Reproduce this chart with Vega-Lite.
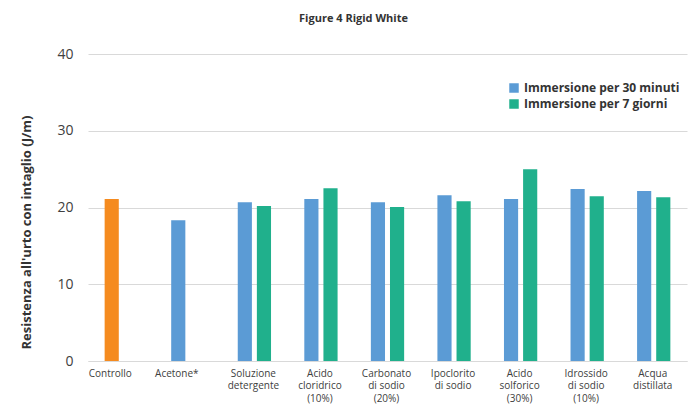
{
  "$schema": "https://vega.github.io/schema/vega-lite/v6.json",
  "autosize": {"type": "none"},
  "width": 599,
  "height": 307,
  "padding": {"left": 88, "top": 54, "right": 10, "bottom": 49},
  "background": "white",
  "title": {
    "text": "Figure 4 Rigid White",
    "fontSize": 11,
    "fontWeight": "bold",
    "color": "#333333",
    "anchor": "middle",
    "dx": -34,
    "offset": 23
  },
  "data": {
    "values": [
      {"cat": "Controllo", "slot": "a", "serie": "Controllo", "value": 21.1},
      {"cat": "Acetone*", "slot": "a", "serie": "Immersione per 30 minuti", "value": 18.35},
      {"cat": "Soluzione\ndetergente", "slot": "a", "serie": "Immersione per 30 minuti", "value": 20.7},
      {"cat": "Soluzione\ndetergente", "slot": "b", "serie": "Immersione per 7 giorni", "value": 20.2},
      {"cat": "Acido\ncloridrico\n(10%)", "slot": "a", "serie": "Immersione per 30 minuti", "value": 21.1},
      {"cat": "Acido\ncloridrico\n(10%)", "slot": "b", "serie": "Immersione per 7 giorni", "value": 22.5},
      {"cat": "Carbonato\ndi sodio\n(20%)", "slot": "a", "serie": "Immersione per 30 minuti", "value": 20.7},
      {"cat": "Carbonato\ndi sodio\n(20%)", "slot": "b", "serie": "Immersione per 7 giorni", "value": 20.05},
      {"cat": "Ipoclorito\ndi sodio", "slot": "a", "serie": "Immersione per 30 minuti", "value": 21.6},
      {"cat": "Ipoclorito\ndi sodio", "slot": "b", "serie": "Immersione per 7 giorni", "value": 20.8},
      {"cat": "Acido\nsolforico\n(30%)", "slot": "a", "serie": "Immersione per 30 minuti", "value": 21.1},
      {"cat": "Acido\nsolforico\n(30%)", "slot": "b", "serie": "Immersione per 7 giorni", "value": 25.0},
      {"cat": "Idrossido\ndi sodio\n(10%)", "slot": "a", "serie": "Immersione per 30 minuti", "value": 22.4},
      {"cat": "Idrossido\ndi sodio\n(10%)", "slot": "b", "serie": "Immersione per 7 giorni", "value": 21.45},
      {"cat": "Acqua\ndistillata", "slot": "a", "serie": "Immersione per 30 minuti", "value": 22.15},
      {"cat": "Acqua\ndistillata", "slot": "b", "serie": "Immersione per 7 giorni", "value": 21.35}
    ]
  },
  "mark": {"type": "bar"},
  "encoding": {
    "x": {
      "field": "cat",
      "type": "nominal",
      "sort": null,
      "scale": {"paddingInner": 0.5, "paddingOuter": 0.25},
      "axis": {
        "title": null,
        "labelAngle": 0,
        "labelExpr": "split(datum.label, '\\n')",
        "labelFontSize": 10,
        "labelColor": "#404040",
        "labelPadding": 7,
        "labelLineHeight": 12.5,
        "labelBaseline": "top",
        "labelOffset": {"condition": {"test": "datum.value == 'Controllo' || datum.value == 'Acetone*'", "value": -11}, "value": -1},
        "ticks": false,
        "domainColor": "#d9d9d9",
        "domainWidth": 1.2,
        "grid": false
      }
    },
    "xOffset": {
      "field": "slot",
      "type": "nominal",
      "scale": {"paddingInner": 0.26, "paddingOuter": 0}
    },
    "y": {
      "field": "value",
      "type": "quantitative",
      "scale": {"domain": [0, 40], "nice": false},
      "axis": {
        "title": "Resistenza all'urto con intaglio (J/m)",
        "titleFontSize": 13,
        "titleFontWeight": "bold",
        "titleColor": "#333333",
        "titleX": -55,
        "titleY": 178,
        "values": [0, 10, 20, 30, 40],
        "labelFontSize": 14,
        "labelColor": "#404040",
        "labelPadding": 15,
        "domain": false,
        "ticks": false,
        "grid": true,
        "gridColor": "#d9d9d9",
        "gridWidth": 1.2
      }
    },
    "color": {
      "field": "serie",
      "type": "nominal",
      "scale": {
        "domain": ["Immersione per 30 minuti", "Immersione per 7 giorni", "Controllo"],
        "range": ["#5b9bd5", "#20b08c", "#f58b1f"]
      },
      "legend": {
        "title": null,
        "values": ["Immersione per 30 minuti", "Immersione per 7 giorni"],
        "orient": "none",
        "legendX": 420,
        "legendY": 28,
        "symbolType": "square",
        "symbolSize": 90,
        "symbolStrokeWidth": 0,
        "labelFontSize": 12,
        "labelFontWeight": "bold",
        "labelColor": "#333333",
        "rowPadding": 4,
        "labelOffset": 4
      }
    }
  },
  "config": {
    "font": "Open Sans",
    "view": {"stroke": null}
  }
}
